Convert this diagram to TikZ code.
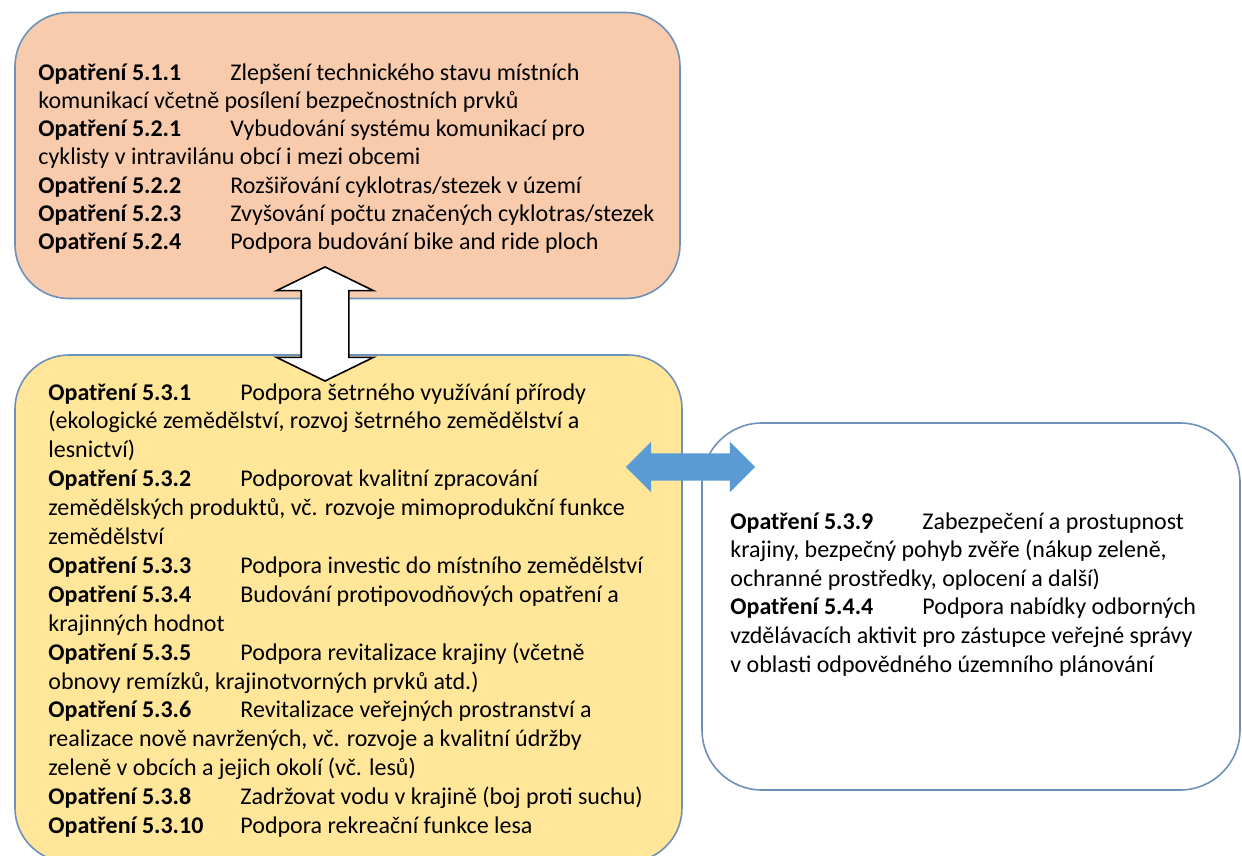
\documentclass[tikz,border=0pt]{standalone}
\usepackage{fontspec}
\setmainfont{Carlito}
\usetikzlibrary{shapes.arrows}
\definecolor{salmon}{RGB}{248,203,173}
\definecolor{gold}{RGB}{255,230,153}
\definecolor{frame}{RGB}{110,145,185}
\definecolor{arrowblue}{RGB}{91,155,213}
\tikzstyle{panel}=[rectangle, rounded corners=27pt, draw=frame, line width=0.8pt, inner sep=0pt]
\tikzstyle{listing}=[anchor=north west, inner sep=0pt, align=left, font=\fontsize{12}{14.3}\selectfont]
\tikzstyle{link}=[double arrow, draw=black, line width=0.8pt, inner xsep=0pt]
\newcommand{\opat}[1]{\makebox[96pt][l]{\textbf{Opatření #1}}}

\begin{document}
\begin{tikzpicture}[x=0.5pt,y=-0.5pt]
  \useasboundingbox (0,0) rectangle (1242,856);
  % boxes
  \node[panel, fill=salmon, minimum width=332.5pt, minimum height=143pt] (doprava) at (347.5,155.5) {};
  \node[panel, fill=gold, minimum width=333.5pt, minimum height=253.5pt] (krajina) at (348.5,608.5) {};
  \node[panel, fill=white, rounded corners=30pt, minimum width=269pt, minimum height=183.5pt] (sprava) at (971,606.5) {};

  \node[listing, font=\fontsize{12}{14.15}\selectfont] (dopravatext) at (38,63) {%
    \opat{5.1.1}Zlepšení technického stavu místních\\
    komunikací včetně posílení bezpečnostních prvků\\
    \opat{5.2.1}Vybudování systému komunikací pro\\
    cyklisty v intravilánu obcí i mezi obcemi\\
    \opat{5.2.2}Rozšiřování cyklotras/stezek v území\\
    \opat{5.2.3}Zvyšování počtu značených cyklotras/stezek\\
    \opat{5.2.4}Podpora budování bike and ride ploch};
  \node[listing, font=\fontsize{12}{14.45}\selectfont] (krajinatext) at (48,383) {%
    \opat{5.3.1}Podpora šetrného využívání přírody\\
    (ekologické zemědělství, rozvoj šetrného zemědělství a\\
    lesnictví)\\
    \opat{5.3.2}Podporovat kvalitní zpracování\\
    zemědělských produktů, vč. rozvoje mimoprodukční funkce\\
    zemědělství\\
    \opat{5.3.3}Podpora investic do místního zemědělství\\
    \opat{5.3.4}Budování protipovodňových opatření a\\
    krajinných hodnot\\
    \opat{5.3.5}Podpora revitalizace krajiny (včetně\\
    obnovy remízků, krajinotvorných prvků atd.)\\
    \opat{5.3.6}Revitalizace veřejných prostranství a\\
    realizace nově navržených, vč. rozvoje a kvalitní údržby\\
    zeleně v obcích a jejich okolí (vč. lesů)\\
    \opat{5.3.8}Zadržovat vodu v krajině (boj proti suchu)\\
    \opat{5.3.10}Podpora rekreační funkce lesa};
  \node[listing] (spravatext) at (730,512) {%
    \opat{5.3.9}Zabezpečení a prostupnost\\
    krajiny, bezpečný pohyb zvěře (nákup zeleně,\\
    ochranné prostředky, oplocení a další)\\
    \opat{5.4.4}Podpora nabídky odborných\\
    vzdělávacích aktivit pro zástupce veřejné správy\\
    v oblasti odpovědného územního plánování};

  % links
  \node[link, fill=white, rotate=90, inner ysep=11.5pt, minimum height=57pt, minimum width=47.5pt,
        double arrow head extend=12.25pt, double arrow tip angle=128] (updown) at (325,324) {};
  \node[link, draw=arrowblue, fill=arrowblue, inner ysep=6pt, minimum height=63.5pt, minimum width=22.5pt,
        double arrow head extend=5.25pt, double arrow tip angle=90] (leftright) at (690.5,467) {};
\end{tikzpicture}
\end{document}
